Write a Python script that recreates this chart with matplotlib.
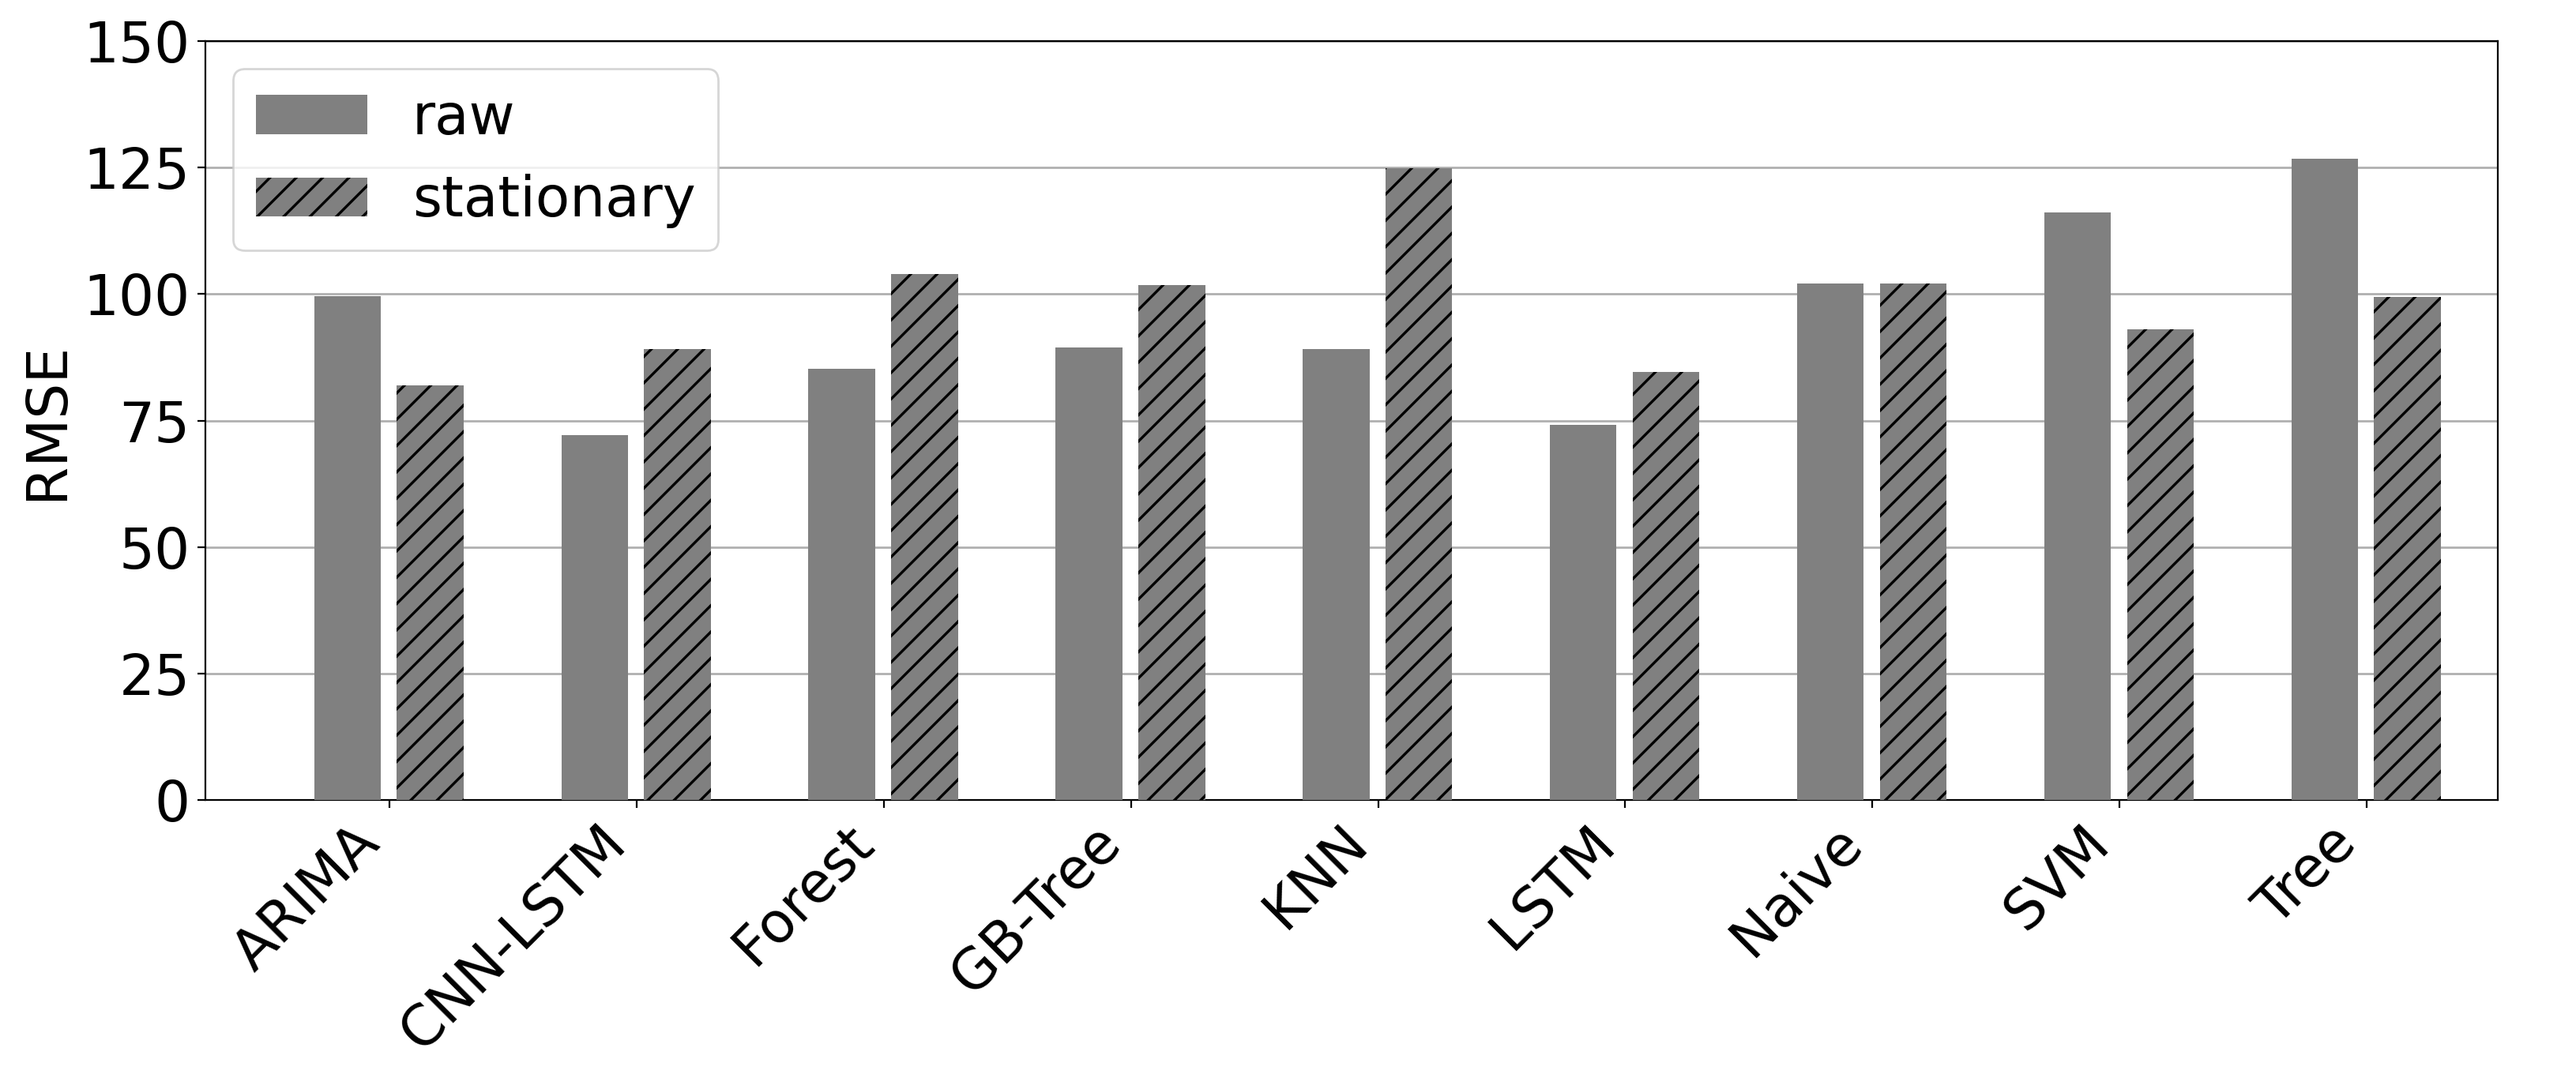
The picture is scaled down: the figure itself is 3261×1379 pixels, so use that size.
import numpy as np
import matplotlib.pyplot as plt

models = ["ARIMA", "CNN-LSTM", "Forest", "GB-Tree", "KNN", "LSTM", "Naive", "SVM", "Tree"]
raw = [99.6, 72.1, 85.3, 89.5, 89.1, 74.1, 102.1, 116.1, 126.7]
stationary = [82.0, 89.2, 104.0, 101.8, 124.9, 84.6, 102.1, 93.1, 99.5]

plt.rcParams['font.size'] = 25.5
plt.rcParams['hatch.linewidth'] = 1.2

fig, ax = plt.subplots(figsize=(16.31, 6.895), dpi=200)
x = np.arange(len(models))
w = 0.27
ax.bar(x - 0.17, raw, w, color='gray', label='raw', zorder=3)
ax.bar(x + 0.165, stationary, w, color='gray', edgecolor='black', linewidth=0,
       hatch='//', label='stationary', zorder=3)

ax.set_xticks(x)
ax.set_xticklabels(models, rotation=45, ha='right')
ax.set_xlim(-0.745, 8.53)
ax.set_ylim(0, 150)
ax.set_yticks([0, 25, 50, 75, 100, 125, 150])
ax.set_ylabel('RMSE')
ax.yaxis.grid(True, color='#b0b0b0', linewidth=1.0, zorder=0)
ax.set_axisbelow(True)
ax.legend(loc='upper left')

fig.subplots_adjust(left=0.0797, right=0.9693, top=0.9623, bottom=0.2654)
fig.savefig('out.png')
